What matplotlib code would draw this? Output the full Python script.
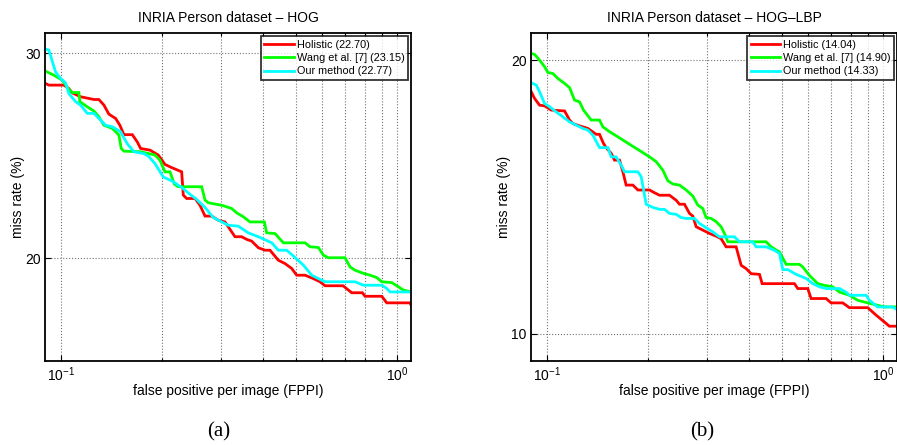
import matplotlib
matplotlib.use("Agg")
import matplotlib.pyplot as plt
from matplotlib.ticker import FixedLocator, NullFormatter, NullLocator, LogFormatterMathtext, FormatStrFormatter

plt.rcParams['font.family'] = ['Liberation Sans', 'DejaVu Sans']
plt.rcParams['mathtext.fontset'] = 'custom'
plt.rcParams['mathtext.rm'] = 'Liberation Sans'

# ---------------- HOG ----------------
hog_holistic_fppi = [0.0900, 0.0921, 0.1021, 0.1056, 0.1081, 0.1144, 0.1254, 0.1297, 0.1343, 0.1389,
                     0.1455, 0.1498, 0.1540, 0.1631, 0.1687, 0.1727, 0.1841, 0.1949, 0.2040, 0.2135,
                     0.2287, 0.2313, 0.2366, 0.2506, 0.2593, 0.2684, 0.2808, 0.2940, 0.3077, 0.3148,
                     0.3295, 0.3449, 0.3570, 0.3694, 0.3867, 0.4047, 0.4188, 0.4435, 0.4642, 0.4859,
                     0.5028, 0.5324, 0.5636, 0.5900, 0.6106, 0.6907, 0.7329, 0.7885, 0.8030, 0.9004,
                     0.9316, 1.093, 1.10]
hog_holistic_mr = [28.27, 28.18, 28.18, 27.99, 27.75, 27.54, 27.39, 27.39, 27.09, 26.61,
                   26.38, 26.03, 25.55, 25.55, 25.19, 24.86, 24.78, 24.54, 24.09, 23.94,
                   23.74, 22.67, 22.52, 22.52, 22.22, 21.75, 21.75, 21.57, 21.50, 21.29,
                   20.88, 20.88, 20.77, 20.70, 20.43, 20.33, 20.33, 19.93, 19.80, 19.61,
                   19.35, 19.35, 19.22, 19.10, 18.95, 18.95, 18.69, 18.69, 18.56, 18.56,
                   18.32, 18.32, 18.24]

hog_wang_fppi = [0.0900, 0.0953, 0.1009, 0.1056, 0.1081, 0.1131, 0.1139, 0.1198, 0.1254, 0.1297,
                 0.1343, 0.1422, 0.1488, 0.1512, 0.1540, 0.1727, 0.1905, 0.1971, 0.2040, 0.2111,
                 0.2175, 0.2235, 0.2623, 0.2684, 0.2746, 0.3008, 0.3221, 0.3333, 0.3489, 0.3652,
                 0.4029, 0.4094, 0.4335, 0.4589, 0.5324, 0.5509, 0.5834, 0.6038, 0.6246, 0.7001,
                 0.7246, 0.7499, 0.7940, 0.8310, 0.8700, 0.9004, 0.9641, 0.9977, 1.044, 1.10]
hog_wang_mr = [28.97, 28.74, 28.46, 27.94, 27.77, 27.77, 27.27, 27.00, 26.77, 26.47,
               26.03, 25.87, 25.53, 24.86, 24.73, 24.70, 24.54, 24.29, 23.74, 23.74,
               23.17, 23.05, 23.05, 22.45, 22.33, 22.22, 22.08, 21.89, 21.72, 21.50,
               21.50, 21.04, 21.01, 20.63, 20.63, 20.47, 20.44, 20.13, 20.03, 20.03,
               19.67, 19.54, 19.42, 19.35, 19.26, 19.10, 19.07, 18.95, 18.79, 18.72]

hog_ours_fppi = [0.0900, 0.0921, 0.0964, 0.0998, 0.1032, 0.1056, 0.1106, 0.1144, 0.1198, 0.1254,
                 0.1312, 0.1358, 0.1422, 0.1505, 0.1575, 0.1649, 0.1766, 0.1820, 0.1905, 0.2016,
                 0.2135, 0.2287, 0.2393, 0.2534, 0.2684, 0.2841, 0.3008, 0.3148, 0.3371, 0.3610,
                 0.3867, 0.4237, 0.4435, 0.4695, 0.4970, 0.5263, 0.5572, 0.5900, 0.6106, 0.7499,
                 0.7940, 0.9004, 0.9316, 0.9533, 1.10]
hog_ours_mr = [30.26, 30.20, 28.93, 28.55, 28.31, 27.72, 27.27, 27.09, 26.65, 26.65,
               26.30, 26.03, 25.95, 25.70, 25.10, 24.70, 24.61, 24.49, 24.13, 23.50,
               23.32, 23.02, 22.77, 22.48, 22.12, 21.69, 21.50, 21.36, 21.32, 21.04,
               20.88, 20.63, 20.33, 20.33, 20.04, 19.74, 19.35, 19.19, 19.10, 19.10,
               18.97, 18.97, 18.85, 18.72, 18.72]

# ---------------- HOG-LBP ----------------
lbp_holistic_fppi = [0.0898, 0.0919, 0.0951, 0.0984, 0.1030, 0.1129, 0.1168, 0.1195, 0.1251, 0.1324,
                     0.1402, 0.1434, 0.1474, 0.1501, 0.1554, 0.1589, 0.1645, 0.1683, 0.1721, 0.1802,
                     0.1865, 0.2020, 0.2090, 0.2163, 0.2316, 0.2424, 0.2480, 0.2566, 0.2656, 0.2717,
                     0.2780, 0.2909, 0.3045, 0.3188, 0.3298, 0.3413, 0.3655, 0.3783, 0.3915, 0.4051,
                     0.4289, 0.4368, 0.5450, 0.5576, 0.5970, 0.6108, 0.6769, 0.7005, 0.7587, 0.7942,
                     0.9003, 0.9533, 1.009, 1.044, 1.10]
lbp_holistic_mr = [18.46, 18.15, 17.84, 17.81, 17.62, 17.58, 17.18, 17.03, 16.93, 16.82,
                   16.57, 16.57, 16.19, 16.02, 15.79, 15.52, 15.52, 15.07, 14.57, 14.57,
                   14.39, 14.39, 14.29, 14.20, 14.20, 14.02, 13.88, 13.88, 13.56, 13.47,
                   13.11, 13.00, 12.89, 12.80, 12.72, 12.46, 12.46, 11.89, 11.79, 11.64,
                   11.62, 11.35, 11.35, 11.21, 11.21, 10.93, 10.93, 10.81, 10.81, 10.68,
                   10.68, 10.48, 10.30, 10.19, 10.19]

lbp_wang_fppi = [0.0898, 0.0919, 0.0951, 0.0984, 0.1007, 0.1042, 0.1078, 0.1129, 0.1168, 0.1209,
                 0.1251, 0.1285, 0.1355, 0.1434, 0.1467, 0.1536, 0.1607, 0.1683, 0.1823, 0.1908,
                 0.2020, 0.2114, 0.2213, 0.2290, 0.2369, 0.2480, 0.2596, 0.2717, 0.2812, 0.2909,
                 0.2976, 0.3080, 0.3188, 0.3298, 0.3374, 0.3453, 0.4489, 0.4645, 0.4918, 0.5148,
                 0.5639, 0.5769, 0.6039, 0.6393, 0.6693, 0.7084, 0.7416, 0.7942, 0.8408, 0.9003,
                 1.009, 1.10]
lbp_wang_mr = [20.34, 20.29, 20.00, 19.67, 19.38, 19.33, 19.09, 18.85, 18.65, 18.07,
               17.99, 17.62, 17.18, 17.18, 16.89, 16.68, 16.51, 16.33, 16.03, 15.86,
               15.65, 15.46, 15.13, 14.73, 14.61, 14.57, 14.39, 14.17, 13.85, 13.73,
               13.42, 13.39, 13.28, 13.11, 12.89, 12.62, 12.62, 12.46, 12.30, 11.92,
               11.92, 11.84, 11.59, 11.35, 11.30, 11.26, 11.11, 11.02, 10.88, 10.81,
               10.70, 10.70]

lbp_ours_fppi = [0.0898, 0.0930, 0.0951, 0.0984, 0.1018, 0.1066, 0.1116, 0.1168, 0.1222, 0.1279,
                 0.1324, 0.1370, 0.1434, 0.1519, 0.1554, 0.1607, 0.1663, 0.1702, 0.1865, 0.1908,
                 0.1974, 0.2066, 0.2163, 0.2238, 0.2316, 0.2424, 0.2508, 0.2596, 0.2748, 0.2844,
                 0.2976, 0.3116, 0.3261, 0.3614, 0.3739, 0.4098, 0.4192, 0.4489, 0.4752, 0.4918,
                 0.5032, 0.5206, 0.5512, 0.5903, 0.6179, 0.6467, 0.6769, 0.7416, 0.7762, 0.7942,
                 0.8902, 0.9107, 0.9641, 1.068, 1.10]
lbp_ours_mr = [18.89, 18.77, 18.46, 17.92, 17.77, 17.54, 17.32, 17.10, 16.96, 16.82,
               16.75, 16.54, 16.02, 16.02, 15.65, 15.65, 15.33, 15.07, 15.07, 14.88,
               13.88, 13.77, 13.70, 13.70, 13.56, 13.53, 13.42, 13.39, 13.39, 13.22,
               13.08, 12.94, 12.78, 12.78, 12.62, 12.62, 12.46, 12.46, 12.35, 12.25,
               11.76, 11.76, 11.62, 11.50, 11.35, 11.26, 11.21, 11.21, 11.11, 11.02,
               11.02, 10.88, 10.70, 10.70, 10.63]

method_names = ["Holistic", "Wang et al. [7]", "Our method"]
hog_scores = ["22.70", "23.15", "22.77"]
lbp_scores = ["14.04", "14.90", "14.33"]
line_colors = ["#ff0000", "#00ff00", "#00ffff"]

panel_titles = ["INRIA Person dataset \u2013 HOG", "INRIA Person dataset \u2013 HOG\u2013LBP"]
panel_tags = ["(a)", "(b)"]
x_limits = (0.0897, 1.10)
y_limits = [(16.33, 31.24), (9.33, 21.42)]
y_ticks = [[20, 30], [10, 20]]

W, H = 897, 445
fig = plt.figure(figsize=(W / 100, H / 100), dpi=100)

panels = [
    ([hog_holistic_fppi, hog_wang_fppi, hog_ours_fppi],
     [hog_holistic_mr, hog_wang_mr, hog_ours_mr], hog_scores),
    ([lbp_holistic_fppi, lbp_wang_fppi, lbp_ours_fppi],
     [lbp_holistic_mr, lbp_wang_mr, lbp_ours_mr], lbp_scores),
]
ax_left_px = [45, 531]
ax_w_px, ax_top_px, ax_bot_px = 366, 33, 361
tag_x_px = [219, 702]

for i, (xs, ys, scores) in enumerate(panels):
    ax = fig.add_axes([ax_left_px[i] / W, 1 - ax_bot_px / H,
                       ax_w_px / W, (ax_bot_px - ax_top_px) / H])
    for x, y, c, name, s in zip(xs, ys, line_colors, method_names, scores):
        ax.plot(x, y, color=c, lw=2.0, label=f"{name} ({s})", solid_joinstyle='miter')
    ax.set_xscale('log')
    ax.set_yscale('log')
    ax.set_xlim(*x_limits)
    ax.set_ylim(*y_limits[i])

    ax.xaxis.set_major_locator(FixedLocator([0.1, 1.0]))
    ax.xaxis.set_major_formatter(LogFormatterMathtext())
    ax.xaxis.set_minor_locator(FixedLocator([0.2, 0.3, 0.4, 0.5, 0.6, 0.7, 0.8, 0.9]))
    ax.xaxis.set_minor_formatter(NullFormatter())
    ax.yaxis.set_major_locator(FixedLocator(y_ticks[i]))
    ax.yaxis.set_major_formatter(FormatStrFormatter('%d'))
    ax.yaxis.set_minor_locator(NullLocator())

    ax.grid(True, which='major', axis='both', ls=':', color='0.45', lw=0.8)
    ax.grid(True, which='minor', axis='x', ls=':', color='0.45', lw=0.8)
    ax.tick_params(which='both', direction='in', top=True, right=True,
                   labelsize=10, pad=3, width=0.8)
    ax.tick_params(which='major', length=4)
    ax.tick_params(which='minor', length=2)
    for sp in ax.spines.values():
        sp.set_linewidth(1.3)

    ax.set_title(panel_titles[i], fontsize=10, pad=8)
    ax.set_xlabel("false positive per image (FPPI)", fontsize=10, labelpad=0)
    ax.set_ylabel("miss rate (%)", fontsize=10, labelpad=0)

    leg = ax.legend(loc='upper right', fontsize=7.8, frameon=True, fancybox=False,
                    handlelength=2.7, handletextpad=0.3, labelspacing=0.32,
                    borderpad=0.3, borderaxespad=0.3)
    leg.get_frame().set_edgecolor('black')
    leg.get_frame().set_linewidth(1.3)

    fig.text(tag_x_px[i] / W, 1 - 432 / H, panel_tags[i], family='Liberation Serif',
             fontsize=15, ha='center', va='center')

fig.savefig("out.png", dpi=100)
